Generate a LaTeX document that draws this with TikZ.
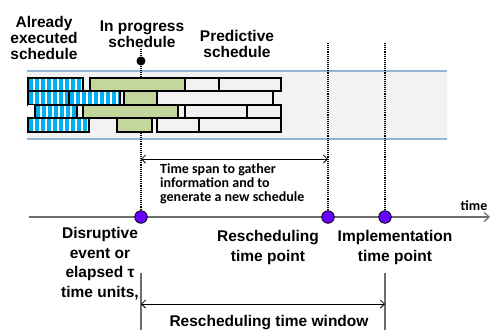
\documentclass[tikz,border=0pt]{standalone}
\usepackage{fontspec}
\setmainfont{Liberation Sans}
\newfontfamily\calib{Carlito}
\usetikzlibrary{arrows.meta}

\definecolor{bandfill}{HTML}{F2F2F2}
\definecolor{bandline}{HTML}{95B3D7}
\definecolor{greenbar}{HTML}{C3D69B}
\definecolor{stripe}{HTML}{00B0F0}
\definecolor{eventdot}{HTML}{6600FF}
\definecolor{axisgray}{HTML}{6E6E6E}

\begin{document}
\begin{tikzpicture}[x=1pt,y=-1pt,
  bar/.style={draw=black, line width=2pt},
  greenjob/.style={bar, fill=greenbar},
  futurejob/.style={bar, fill=bandfill},
  donejob/.style={bar, fill=white, path picture={
      \foreach \i in {0,...,12}{
        \fill[stripe] ([xshift=\i*6pt+1pt]path picture bounding box.south west)
          rectangle ([xshift=\i*6pt+4.6pt]path picture bounding box.north west);}}},
  label/.style={font=\bfseries\fontsize{15.5}{16}\selectfont, align=center, inner sep=0pt},
  lowlabel/.style={font=\bfseries\fontsize{15.5}{19.6}\selectfont, align=center, inner sep=0pt},
  spantext/.style={font=\calib\bfseries\fontsize{14}{14}\selectfont, align=left, inner sep=0pt},
  evdot/.style={circle, draw=black, line width=0.8pt, fill=eventdot, minimum size=12.5pt, inner sep=0pt},
  nowdot/.style={circle, fill=black, minimum size=9pt, inner sep=0pt},
  marker/.style={densely dotted, line width=1.1pt},
  axisline/.style={draw=axisgray, line width=1.2pt},
  twoway/.style={line width=0.8pt, {Straight Barb[length=4pt,width=8pt]}-{Straight Barb[length=4pt,width=8pt]}},
  tick/.style={draw=axisgray, line width=1.3pt}
]
\useasboundingbox (0,0) rectangle (491,333);

% schedule band
\fill[bandfill] (27,71) rectangle (447,139);
\draw[bandline, line width=1.5pt] (27,71) -- (447,71);
\draw[bandline, line width=1.5pt] (27,139) -- (447,139);

% time axis and event points
\coordinate (t0) at (29,217);
\coordinate (t1) at (490,217);
\draw[axisline, -{Straight Barb[length=5pt,width=9pt]}] (t0) -- (t1);
\node[evdot] (ev) at (141,217) {};
\node[evdot] (rp) at (328,217) {};
\node[evdot] (ip) at (385,217) {};

% markers up to the schedule
\coordinate (mtop) at (141,49);
\coordinate (rtop) at (328,43);
\coordinate (itop) at (385,43);
\node[nowdot] (now) at (141,61) {};
\draw[marker] (mtop) -- (now);
\draw[marker] (now) -- (ev);
\draw[marker] (rtop) -- (rp);
\draw[marker] (itop) -- (ip);

% row 1
\draw[donejob]   (28,77.5) rectangle (83,91.1);
\draw[greenjob]  (90,77.5) rectangle (185,91.1);
\draw[futurejob] (185,77.5) rectangle (219,91.1);
\draw[futurejob] (219,77.5) rectangle (281,91.1);
% row 2
\draw[donejob]   (28,91.1) rectangle (69,104.7);
\draw[donejob]   (69,91.1) rectangle (120,104.7);
\draw[futurejob] (120,91.1) rectangle (124,104.7);
\draw[greenjob]  (124,91.1) rectangle (157,104.7);
\draw[futurejob] (157,91.1) rectangle (273,104.7);
% row 3
\fill[white] (28,104.7) rectangle (35,118.3);
\draw[donejob]   (35,104.7) rectangle (77,118.3);
\draw[futurejob] (77,104.7) rectangle (83,118.3);
\draw[greenjob]  (83,104.7) rectangle (178,118.3);
\draw[futurejob] (178,104.7) rectangle (185,118.3);
\draw[futurejob] (185,104.7) rectangle (247,118.3);
\draw[futurejob] (247,104.7) rectangle (281,118.3);
% row 4
\draw[donejob]   (28,118.3) rectangle (89,132);
\draw[greenjob]  (117,118.3) rectangle (152,132);
\draw[futurejob] (157,118.3) rectangle (199,132);
\draw[futurejob] (199,118.3) rectangle (281,132);

% headings
\node[label] (done) at (44,38) {Already\\executed\\schedule};
\node[label] (prog) at (142,34.5) {In progress\\schedule};
\node[label] (pred) at (237,43.5) {Predictive\\schedule};

% time span to build the new schedule
\coordinate (sa) at (141,159);
\coordinate (sb) at (328,159);
\draw[twoway] (sa) -- (sb);
\node[spantext, anchor=west] (span) at (160,184) {Time span to gather\\information and to\\generate a new schedule};

\node[font=\calib\bfseries\fontsize{14}{14}\selectfont, inner sep=0pt] (tlab) at (474,206) {time};

% point labels
\node[lowlabel] (dis) at (100,263.5) {Disruptive\\event or\\elapsed τ\\time units,};
\node[lowlabel] (res) at (268,247.5) {Rescheduling\\time point};
\node[lowlabel] (imp) at (395,247.5) {Implementation\\time point};

% rescheduling window
\coordinate (wl0) at (141,273);
\coordinate (wl1) at (141,330);
\coordinate (wr0) at (385,273);
\coordinate (wr1) at (385,330);
\draw[tick] (wl0) -- (wl1);
\draw[tick] (wr0) -- (wr1);
\coordinate (wa) at (141,304);
\coordinate (wb) at (385,304);
\draw[twoway] (wa) -- (wb);
\node[lowlabel] (win) at (269,323) {Rescheduling time window};
\end{tikzpicture}
\end{document}
